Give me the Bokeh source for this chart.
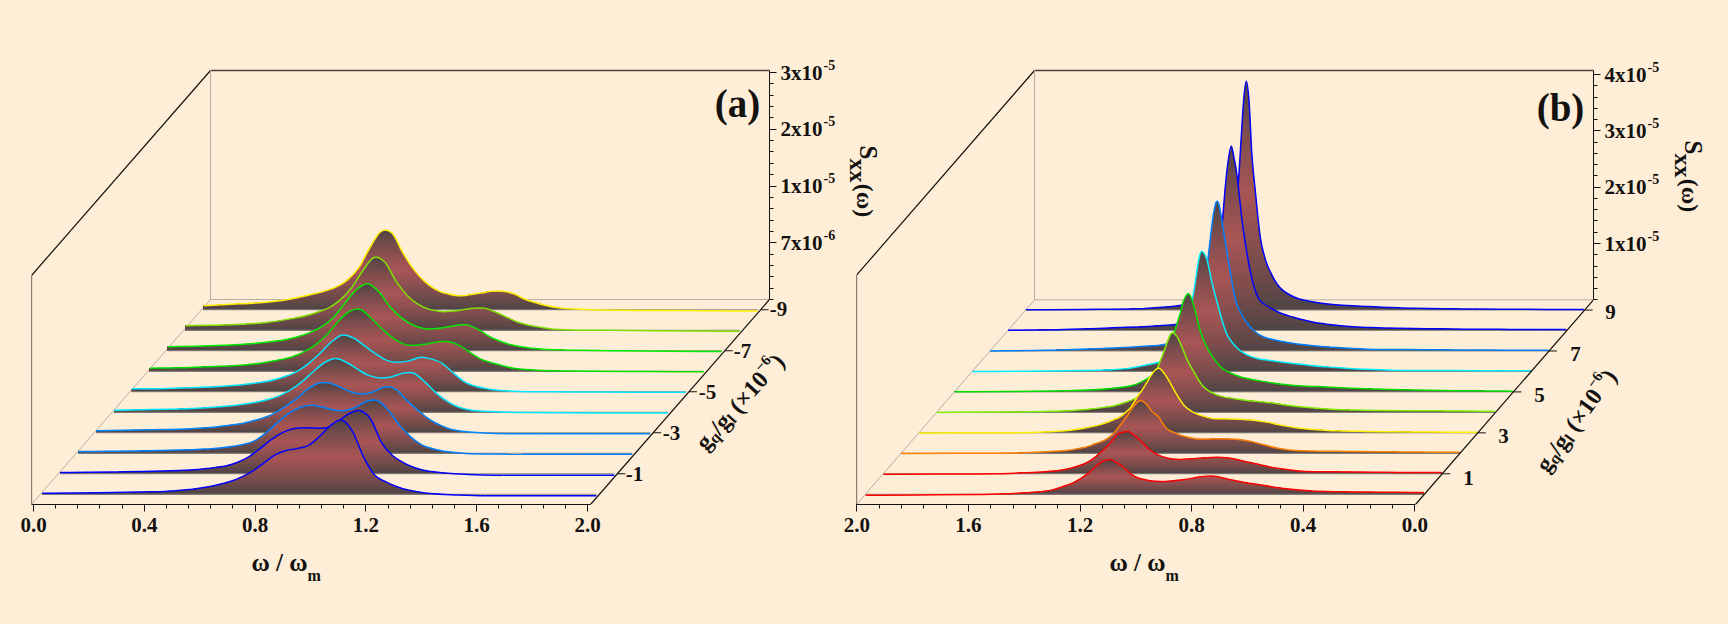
"""Two stacked spectra panels S_xx(w) drawn in a faked 3D projection."""

import math

import numpy as np
from bokeh.embed import file_html
from bokeh.layouts import column, row
from bokeh.models import FixedTicker, GlobalInlineStyleSheet, Label, LinearAxis, PrintfTickFormatter, Range1d
from bokeh.plotting import figure
from bokeh.resources import INLINE

BG = "#FFEED7"
FONT = "Liberation Serif"
INK = "#141210"

# Data, z in divisions of the vertical axis
omega_a = [0, .1, .2, .3, .4, .44, .48, .52, .56, .6, .64, .68, .72, .76, .8, .84, .88, .92, .96, 1.0, 1.04, 1.08,
           1.12, 1.16, 1.2, 1.24, 1.28, 1.32, 1.4, 1.5, 1.6, 1.8, 2.0]
z_a0 = [.018, .021, .026, .035, .042, .049, .061, .079, .102, .132, .175, .228, .307, .412, .553, .693, .772, .804,
        .860, 1.018, 1.211, 1.307, 1.105, .649, .333, .219, .132, .074, .012, -.012, -.026, -.026, -.026]
z_a1 = [.023, .026, .032, .039, .053, .061, .070, .088, .111, .140, .202, .298, .439, .596, .719, .793, .809, .807,
        .809, .912, 1.053, 1.114, .965, .544, .316, .193, .105, .053, .009, -.018, -.026, -.026, -.026]
z_a2 = [.030, .035, .040, .049, .061, .070, .079, .096, .123, .158, .228, .368, .544, .702, .807, .847, .816, .763,
        .751, .807, .912, .930, .754, .491, .289, .149, .079, .035, -.004, -.014, -.018, -.018, -.018]
z_a3 = [.035, .044, .053, .061, .088, .105, .132, .158, .202, .254, .333, .456, .588, .754, .868, .877, .807, .719,
        .684, .719, .807, .772, .579, .404, .246, .140, .061, .026, -.005, -.018, -.018, -.018, -.018]
z_a4 = [.035, .044, .053, .070, .105, .123, .149, .184, .228, .298, .404, .544, .719, .877, .947, .877, .754, .649,
        .605, .623, .684, .693, .544, .351, .202, .096, .044, .021, .004, -.005, -.009, -.012, -.014]
z_a5 = [.053, .053, .070, .088, .123, .149, .175, .219, .281, .368, .509, .684, .877, 1.000, .947, .807, .667, .553,
        .518, .544, .605, .579, .500, .333, .175, .096, .053, .026, .005, 0, -.004, -.007, -.011]
z_a6 = [.053, .061, .079, .096, .140, .175, .210, .263, .351, .474, .649, .877, 1.053, 1.088, .930, .737, .579, .474,
        .456, .482, .518, .518, .447, .316, .202, .140, .088, .047, .018, .005, 0, -.005, -.011]
z_a7 = [.070, .079, .096, .123, .175, .210, .263, .333, .439, .596, .842, 1.070, 1.182, 1.053, .789, .596, .465, .395,
        .386, .412, .447, .456, .377, .254, .167, .105, .067, .039, .018, .009, .002, -.009, -.014]
z_a8 = [.079, .088, .105, .140, .219, .263, .325, .404, .544, .754, 1.053, 1.281, 1.193, .860, .614, .456, .368, .330,
        .333, .360, .386, .386, .316, .228, .140, .088, .053, .021, .005, 0, -.005, -.012, -.018]
z_a9 = [.070, .096, .123, .175, .281, .333, .404, .526, .737, 1.088, 1.377, 1.351, 1.000, .702, .491, .351, .281, .246,
        .263, .293, .325, .325, .281, .184, .123, .070, .035, .018, 0, -.009, -.012, -.018, -.023]

omega_b = [0, .1, .2, .3, .4, .5, .6, .65, .7, .75, .8, .85, .9, .94, .98, 1.02, 1.05, 1.08, 1.1, 1.12, 1.14, 1.16,
           1.18, 1.19, 1.2, 1.21, 1.22, 1.24, 1.26, 1.28, 1.3, 1.33, 1.36, 1.4, 1.45, 1.5, 1.6, 1.8, 2.0]
z_b0 = [.030, .036, .039, .044, .057, .103, .178, .218, .266, .320, .311, .266, .240, .227, .240, .284, .364, .497,
        .559, .613, .604, .559, .471, .426, .382, .346, .311, .249, .195, .160, .124, .078, .053, .036, .021, .009,
        -.004, -.012, -.018]
z_b1 = [.021, .023, .027, .030, .036, .044, .107, .160, .213, .272, .293, .284, .266, .254, .275, .346, .444, .595,
        .675, .746, .737, .702, .586, .533, .480, .435, .391, .302, .231, .178, .142, .098, .066, .044, .028, .018,
        0, -.005, -.009]
z_b2 = [.018, .021, .025, .028, .034, .039, .053, .089, .151, .213, .249, .258, .256, .256, .293, .364, .444, .657,
        .737, .861, .936, .879, .746, .666, .604, .533, .471, .346, .266, .213, .178, .124, .089, .053, .036, .023,
        .005, 0, -.005]
z_b3 = [.009, .012, .016, .020, .025, .036, .066, .092, .133, .186, .222, .243, .249, .252, .293, .373, .488, .710,
        .888, 1.048, 1.146, 1.083, .924, .844, .764, .693, .622, .462, .364, .284, .240, .178, .133, .089, .050, .027,
        .005, 0, -.004]
z_b4 = [.021, .023, .027, .030, .034, .041, .062, .080, .098, .133, .169, .195, .218, .249, .284, .364, .488, .728,
        .906, 1.137, 1.350, 1.403, 1.172, 1.030, .906, .781, .675, .497, .364, .275, .222, .169, .124, .089, .060,
        .039, .018, .005, 0]
z_b5 = [.014, .018, .021, .028, .039, .053, .071, .083, .094, .103, .124, .151, .190, .226, .275, .355, .462, .657,
        .835, 1.083, 1.474, 1.740, 1.616, 1.421, 1.261, 1.101, .959, .710, .515, .373, .266, .178, .119, .083, .057,
        .039, .021, .007, .004]
z_b6 = [.011, .012, .014, .016, .018, .021, .039, .053, .071, .089, .115, .142, .172, .199, .231, .302, .408, .586,
        .817, 1.172, 1.545, 1.989, 2.131, 1.964, 1.634, 1.332, 1.101, .799, .568, .408, .284, .169, .133, .092, .050,
        .032, .016, .002, 0]
z_b7 = [.014, .014, .016, .018, .021, .025, .028, .032, .044, .059, .076, .098, .124, .156, .195, .249, .337, .497,
        .657, .888, 1.403, 2.007, 2.593, 2.646, 2.433, 2.060, 1.634, 1.030, .675, .462, .320, .195, .133, .098, .082,
        .067, .044, .011, 0]
z_b8 = [.016, .018, .020, .021, .027, .032, .039, .044, .052, .062, .080, .107, .142, .186, .240, .302, .373, .462,
        .551, .799, 1.261, 1.900, 2.771, 3.055, 3.279, 3.055, 2.629, 1.510, 1.030, .675, .462, .266, .169, .107, .089,
        .071, .052, .018, .005]
z_b9 = [.009, .011, .012, .014, .018, .023, .032, .036, .046, .057, .067, .080, .098, .121, .151, .195, .258, .355,
        .462, .639, .870, 1.296, 2.220, 2.753, 3.694, 4.064, 3.694, 2.167, 1.350, .799, .533, .320, .213, .133, .080,
        .053, .021, .011, .004]

series_a = [z_a0, z_a1, z_a2, z_a3, z_a4, z_a5, z_a6, z_a7, z_a8, z_a9]
series_b = [z_b0, z_b1, z_b2, z_b3, z_b4, z_b5, z_b6, z_b7, z_b8, z_b9]
colors_a = ["#0000FF", "#0000FF", "#0080FF", "#0088FF", "#00E8FF", "#00E8FF", "#00E000", "#00F000", "#80E000", "#FFF000"]
colors_b = ["#FF0000", "#FF0000", "#FF8000", "#FFF000", "#80F000", "#00E000", "#00F0FF", "#0080FF", "#0000FF", "#0000FF"]
x_ticks = [0, .4, .8, 1.2, 1.6, 2.0]
x_minor = [round(k * .08, 2) for k in range(26)]
z_ticks = [1, 2, 3, 4]
z_minor = [round(k * .2, 1) for k in range(21)]
z_labels_a = ["7x10", "1x10", "2x10", "3x10"]
z_sups_a = ["-6", "-5", "-5", "-5"]
z_labels_b = ["1x10", "2x10", "3x10", "4x10"]
z_sups_b = ["-5", "-5", "-5", "-5"]
depth_a = ["-1", "-3", "-5", "-7", "-9"]
depth_b = ["1", "3", "5", "7", "9"]

# Labels can't leave a figure's frame, so they sit on a clear sheet laid over both panels
sheet = figure(width=1728, height=624, x_range=Range1d(0, 1728), y_range=Range1d(624, 0), x_axis_type=None,
               y_axis_type=None, output_backend="svg", toolbar_location=None, min_border=0, outline_line_color=None,
               background_fill_alpha=0, border_fill_alpha=0, margin=(-624, 0, 0, 0))
sheet.grid.visible = False


def make_panel(width, left, right, xr, yr):
    p = figure(width=width, height=624, x_range=xr, y_range=yr, x_axis_type=None, y_axis_type=None,
               output_backend="svg", toolbar_location=None, min_border_left=left, min_border_right=right,
               min_border_top=60, min_border_bottom=120, background_fill_color=BG, border_fill_color=BG,
               outline_line_color=None)
    p.grid.visible = False
    return p


def style_axis(ax, major, minor):
    ax.major_tick_in = 0
    ax.minor_tick_in = 0
    ax.major_tick_out = major
    ax.minor_tick_out = minor
    ax.axis_line_color = INK
    ax.major_tick_line_color = INK
    ax.minor_tick_line_color = INK
    ax.major_label_text_font = FONT
    ax.major_label_text_font_style = "bold"
    ax.major_label_text_font_size = "21px"
    ax.major_label_text_color = INK


def shade(frac):
    # dark at the foot and at the top of a ribbon, red half way up
    m = (1 - abs(2 * frac - 1)) ** 0.8
    r, g, b = 74 + 96 * m, 68 + 17 * m, 68 + 17 * m
    return f"#{int(r):02x}{int(g):02x}{int(b):02x}"


def slopes(w, h):
    m = np.zeros_like(h)
    m[0], m[-1] = (h[1] - h[0]) / (w[1] - w[0]), (h[-1] - h[-2]) / (w[-1] - w[-2])
    m[1:-1] = (h[2:] - h[:-2]) / (w[2:] - w[:-2])
    return m


def outline(w, h, m, steps=6):
    # the same cubic the bezier glyph draws, flattened so the shading meets the line
    s = np.linspace(0, 1, steps, endpoint=False)[:, None]
    step = np.diff(w)
    ww = w[:-1] + s * step
    hh = ((1 + 2 * s) * (1 - s) ** 2 * h[:-1] + s * (1 - s) ** 2 * step * m[:-1]
          + s ** 2 * (3 - 2 * s) * h[1:] + s ** 2 * (s - 1) * step * m[1:])
    return np.append(ww.T.ravel(), w[-1]), np.append(hh.T.ravel(), h[-1])


def ribbon(p, omega, z, t, depth_x, depth_z, color, bands=26):
    w = np.array(omega, dtype=float)
    h = np.array(z, dtype=float)
    m = slopes(w, h)
    mesh_w, mesh_h = outline(w, h, m)
    shift_x = t * depth_x
    shift_z = -(1 - t) * depth_z
    xs, ys, fills = [], [], []
    for k in range(bands, 0, -1):
        level = mesh_h.max() * k / bands
        # add the points where the curve crosses this band's top edge
        cross = np.where((mesh_h[:-1] - level) * (mesh_h[1:] - level) < 0)[0]
        wc = mesh_w[cross] + (level - mesh_h[cross]) * (mesh_w[cross + 1] - mesh_w[cross]) / (mesh_h[cross + 1] - mesh_h[cross])
        wb = np.sort(np.concatenate([mesh_w, wc]))
        top = np.clip(np.interp(wb, mesh_w, mesh_h), 0, level)
        xs.append(np.concatenate([wb, wb[::-1]]) + shift_x)
        ys.append(np.concatenate([top, np.zeros_like(top)]) + shift_z)
        fills.append(shade((k - .5) / bands))
    p.patches(xs, ys, fill_color=fills, line_color=None)
    p.line([omega[0] + shift_x, omega[-1] + shift_x], [shift_z, shift_z], line_color="#8C8880", line_width=1)
    step = np.diff(w)
    p.bezier(w[:-1] + shift_x, h[:-1] + shift_z, w[1:] + shift_x, h[1:] + shift_z,
             w[:-1] + step / 3 + shift_x, h[:-1] + m[:-1] * step / 3 + shift_z,
             w[1:] - step / 3 + shift_x, h[1:] - m[1:] * step / 3 + shift_z,
             line_color=color, line_width=1.5)


def text(s, px, py, size, angle=0.0, align="left", base="middle"):
    sheet.add_layout(Label(x=px, y=py, text=s, text_font=FONT, text_font_style="bold", text_font_size=f"{size}px",
                           text_color=INK, angle=angle, text_align=align, text_baseline=base))


def slanted_label(px, py, degrees):
    # g_q/g_l (x10^-6) written along the depth axis
    runs = [("g", 24, 0, .5), ("q", 16, 5, .556), ("/", 24, 0, .278), ("g", 24, 0, .5), ("l", 16, 5, .278),
            ("(", 24, 0, .583), ("×", 24, 0, .57), ("10", 24, 0, 1.0), ("−6", 15, -9, 1.07), (")", 24, 0, .333)]
    a = math.radians(degrees)
    along = 0.0
    for s, size, drop, adv in runs:
        x = px + along * math.cos(a) + drop * math.sin(a)
        y = py - along * math.sin(a) + drop * math.cos(a)
        lead = .25 * size if s == "(" else 0
        text(s, x + lead * math.cos(a), y - lead * math.sin(a), size, angle=a, base="alphabetic")
        along += adv * size


def box(p, w_lo, w_hi, z_top, depth_x, depth_z):
    dark = dict(line_color=INK, line_width=1.2)
    pale = dict(line_color="#B8AE9E", line_width=1)
    p.line([w_lo, w_lo], [-depth_z, z_top - depth_z], **dark)
    p.line([w_lo, w_lo + depth_x], [z_top - depth_z, z_top], **dark)
    p.line([w_lo + depth_x, w_hi + depth_x], [z_top, z_top], line_color="#4A443C", line_width=1.4)
    p.line([w_lo + depth_x, w_lo + depth_x], [0, z_top], **pale)
    p.line([w_lo + depth_x, w_hi + depth_x], [0, 0], **pale)
    p.line([w_lo, w_lo + depth_x], [-depth_z, 0], **pale)


def panel(width, left, right, scale_x, origin_x, scale_z, origin_y, frame_l, frame_r, depth_px, omega, series, colors,
          z_labels, z_sups, depth_labels, depth_label_px, sup_x, tag, tag_px, name_x, s_px, slant):
    def to_x(px):
        return (px - origin_x) / scale_x

    def to_z(py):
        return (origin_y - py) / scale_z

    p = make_panel(width, left, right, Range1d(to_x(frame_l), to_x(frame_r)), Range1d(to_z(504), to_z(60)))
    depth_x = depth_px / scale_x
    depth_z = (504 - origin_y) / scale_z
    z_top = (origin_y - 70) / scale_z
    w_lo, w_hi = sorted((to_x(frame_l), to_x(frame_r - depth_px)))

    box(p, to_x(frame_l), to_x(frame_r - depth_px), z_top, depth_x, depth_z)

    for i in range(9, -1, -1):
        ribbon(p, omega, series[i], (i + .5) / 10, depth_x, depth_z, colors[i])

    # floor edge on the right, with its ticks
    end = to_x(frame_r - depth_px)
    p.line([end, end + depth_x], [-depth_z, 0], line_color=INK, line_width=1.2)
    for n, s in enumerate(depth_labels):
        t = (2 * n + 1.5) / 10
        tx = end + t * depth_x
        ty = -(1 - t) * depth_z
        p.line([tx, tx + 8 / scale_x], [ty, ty], line_color=INK, line_width=1)
        text(s, depth_label_px[n][0], depth_label_px[n][1], 21, align="center")

    below = LinearAxis(ticker=FixedTicker(ticks=x_ticks, minor_ticks=x_minor), bounds=(w_lo, w_hi),
                       formatter=PrintfTickFormatter(format="%.1f"), major_label_standoff=6)
    style_axis(below, 7, 4)
    p.add_layout(below, "below")

    side = LinearAxis(ticker=FixedTicker(ticks=z_ticks, minor_ticks=z_minor), bounds=(0, z_top),
                      major_label_overrides=dict(zip(z_ticks, z_labels)), major_label_standoff=4)
    style_axis(side, 7, 4)
    p.add_layout(side, "right")
    for tick, sup in zip(z_ticks, z_sups):
        text(sup, sup_x, origin_y - tick * scale_z - 8, 14)

    text(tag, tag_px[0], tag_px[1], 39, align="center")
    text("ω / ω", name_x - 2, 562, 25)
    text("m", name_x + 54, 575, 16)
    text("S", s_px[0], s_px[1], 25, angle=-math.pi / 2, align="center")
    text("xx", s_px[0] - 11, s_px[1] + 18, 24, angle=-math.pi / 2, align="center")
    text("(ω)", s_px[0] - 4, s_px[1] + 48, 24, angle=-math.pi / 2, align="center")
    slanted_label(slant[0], slant[1], slant[2])
    return p


pa = panel(840, 31, 71, 277, 33, 56.75, 299, 31, 769, 179, omega_a, series_a, colors_a, z_labels_a, z_sups_a, depth_a,
           [(634, 473), (671, 432), (707, 391), (742, 350), (778, 308)], 823, "(a)", (737, 103), 253, (868, 152),
           (699.5, 446, 48))
pb = panel(888, 16, 135, -279, 1414.3, 56.3, 299.3, 856, 1593, 178, omega_b, series_b, colors_b, z_labels_b, z_sups_b,
           depth_b, [(1468, 477), (1503, 435), (1539, 394), (1575, 353), (1610, 311)], 1647, "(b)", (1560, 107), 1111,
           (1693, 147), (1540.5, 468.5, 54))

page = column(row(pa, pb), sheet,
              stylesheets=[GlobalInlineStyleSheet(css=f"html, body {{margin: 0; background: {BG}; overflow: hidden;}}")])

open("out.html", "w").write(file_html(page, INLINE))
